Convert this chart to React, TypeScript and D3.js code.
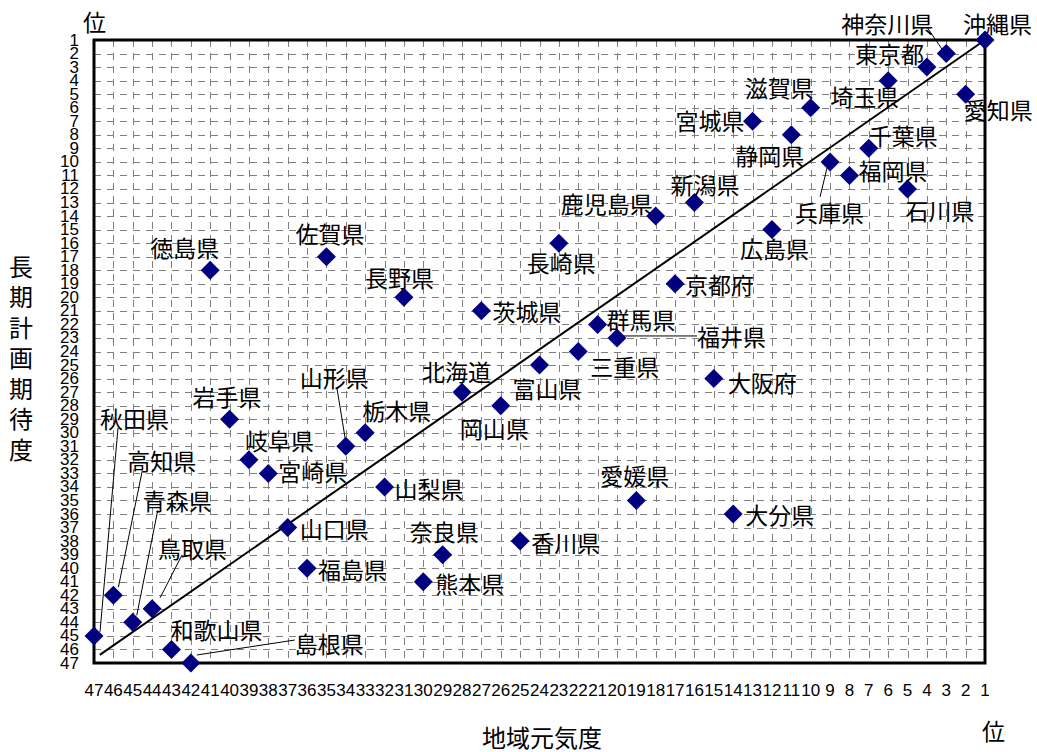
import React from "react";
import * as d3 from "d3";

// Prefecture names, regional-vitality rank (x) and long-term-plan-expectation rank (y)
const names = [
  "沖縄県", "神奈川県", "東京都", "埼玉県", "愛知県", "滋賀県", "宮城県", "静岡県",
  "千葉県", "兵庫県", "福岡県", "石川県", "新潟県", "鹿児島県", "広島県", "長崎県",
  "佐賀県", "徳島県", "京都府", "長野県", "茨城県", "群馬県", "福井県", "三重県",
  "富山県", "大阪府", "北海道", "岡山県", "岩手県", "栃木県", "山形県", "岐阜県",
  "宮崎県", "山梨県", "愛媛県", "大分県", "山口県", "香川県", "奈良県", "福島県",
  "熊本県", "高知県", "鳥取県", "青森県", "秋田県", "和歌山県", "島根県",
];
const vitalityRank = [
  1, 3, 4, 6, 2, 10, 13, 11, 7, 9, 8, 5, 16, 18, 12, 23, 35, 41, 17, 31, 27, 21, 20, 22,
  24, 15, 28, 26, 40, 33, 34, 39, 38, 32, 19, 14, 37, 25, 29, 36, 30, 46, 44, 45, 47, 43, 42,
];
const expectationRank = [
  1, 2, 3, 4, 5, 6, 7, 8, 9, 10, 11, 12, 13, 14, 15, 16, 17, 18, 19, 20, 21, 22, 23, 24,
  25, 26, 27, 28, 29, 30, 31, 32, 33, 34, 35, 36, 37, 38, 39, 40, 41, 42, 43, 44, 45, 46, 47,
];
const rankTicks = d3.range(1, 48);
const diagonalStart = [46.7, 46.4];
const diagonalEnd = [1, 1];

// label placement (pixel offsets from the marker): [dx, dy]
const labelOffsets: Record<string, [number, number]> = {
  沖縄県: [-22, -17], 神奈川県: [-105, -31], 東京都: [-72, -14], 埼玉県: [-58, 15],
  愛知県: [-2, 15], 滋賀県: [-66, -21], 宮城県: [-77, -1], 静岡県: [-56, 20],
  千葉県: [0, -13], 兵庫県: [-35, 50], 福岡県: [9, -5], 石川県: [-2, 21],
  新潟県: [-24, -19], 鹿児島県: [-95, -13], 広島県: [-32, 18], 長崎県: [-32, 19],
  佐賀県: [-31, -24], 徳島県: [-60, -23], 京都府: [10, 0], 長野県: [-39, -20],
  茨城県: [11, 0], 群馬県: [9, -5], 福井県: [80, -2], 三重県: [12, 14],
  富山県: [-27, 23], 大阪府: [14, 3], 北海道: [-40, -21], 岡山県: [-41, 22],
  岩手県: [-37, -23], 栃木県: [-3, -23], 山形県: [-46, -69], 岐阜県: [-4, -20],
  宮崎県: [10, -2], 山梨県: [10, 1], 愛媛県: [-36, -25], 大分県: [12, 0],
  山口県: [12, 0], 香川県: [11, 1], 奈良県: [-33, -24], 福島県: [11, 1],
  熊本県: [12, 1], 高知県: [14, -135], 鳥取県: [6, -61], 青森県: [10, -122],
  秋田県: [6, -218], 和歌山県: [-1, -20], 島根県: [104, -20],
};
// leader lines (offsets from the marker): [x1, y1, x2, y2]
const leaders: Record<string, [number, number, number, number]> = {
  神奈川県: [-19, -26, -4, -4],
  兵庫県: [-10, 35, -3, 6],
  福井県: [5, -2, 80, -2],
  山形県: [-9, -59, 0, -4],
  高知県: [29, -125, 5, -8],
  鳥取県: [30, -54, 8, -11],
  青森県: [25, -112, 4, -7],
  秋田県: [24, -208, 6, -4],
  島根県: [6, -8, 104, -23],
};

const W = 1037;
const H = 752;
const left = 94, right = 985, top = 40, bottom = 663;
const jp = "'Noto Sans CJK JP', sans-serif";
const num = "'Liberation Sans', Arial, sans-serif";

export default function App() {
  const x = d3.scaleLinear().domain([47, 1]).range([left, right]);
  const y = d3.scaleLinear().domain([1, 47]).range([top, bottom]);
  const pts = names.map((n, i) => ({ n, px: x(vitalityRank[i]), py: y(expectationRank[i]) }));
  const diamond = d3.symbol().type(d3.symbolDiamond2 ?? d3.symbolDiamond).size(230)();
  const yTitle = "長期計画期待度".split("");

  return (
    <svg width={W} height={H} style={{ position: "absolute", left: 0, top: 0, background: "#fff" }}>
      <rect x={0} y={0} width={W} height={H} fill="#fff" />
      {/* grid */}
      <g stroke="#7f7f7f" strokeWidth={1} strokeDasharray="7,6">
        {rankTicks.slice(1, -1).map((r) => (
          <line key={"v" + r} x1={Math.round(x(r)) + 0.5} x2={Math.round(x(r)) + 0.5} y1={top} y2={bottom} />
        ))}
        {rankTicks.slice(1, -1).map((r) => (
          <line key={"h" + r} x1={left} x2={right} y1={Math.round(y(r)) + 0.5} y2={Math.round(y(r)) + 0.5} />
        ))}
      </g>
      {/* frame */}
      <rect x={left} y={top} width={right - left} height={bottom - top} fill="none" stroke="#000" strokeWidth={3} />
      {/* diagonal */}
      <line
        x1={x(diagonalStart[0])} y1={y(diagonalStart[1])}
        x2={x(diagonalEnd[0])} y2={y(diagonalEnd[1])}
        stroke="#000" strokeWidth={2}
      />
      {/* ticks */}
      <g fontFamily={num} fontSize={17} fill="#000">
        {rankTicks.map((r) => (
          <text key={"yt" + r} x={79} y={y(r)} textAnchor="end" dominantBaseline="central">{r}</text>
        ))}
        {rankTicks.map((r) => (
          <text key={"xt" + r} x={x(r)} y={690} textAnchor="middle" dominantBaseline="central">{r}</text>
        ))}
      </g>
      {/* leaders */}
      <g stroke="#000" strokeWidth={1}>
        {pts.filter((p) => leaders[p.n]).map((p) => {
          const l = leaders[p.n];
          return <line key={"l" + p.n} x1={p.px + l[0]} y1={p.py + l[1]} x2={p.px + l[2]} y2={p.py + l[3]} />;
        })}
      </g>
      {/* markers */}
      <g fill="#000080">
        {pts.map((p) => (
          <path key={"m" + p.n} d={diamond as string} transform={`translate(${p.px},${p.py})`} />
        ))}
      </g>
      {/* labels */}
      <g fontFamily={jp} fontSize={23} fill="#000">
        {pts.map((p) => {
          const o = labelOffsets[p.n] || [10, 0];
          return (
            <text key={"t" + p.n} x={p.px + o[0]} y={p.py + o[1]} dominantBaseline="central">{p.n}</text>
          );
        })}
      </g>
      {/* axis titles */}
      <g fontFamily={jp} fill="#000">
        <text x={83} y={21} fontSize={23} dominantBaseline="central">位</text>
        <text x={982} y={730} fontSize={23} dominantBaseline="central">位</text>
        <text x={542} y={736} fontSize={24} textAnchor="middle" dominantBaseline="central">地域元気度</text>
        {yTitle.map((c, i) => (
          <text key={"yt" + i} x={21} y={265 + i * 30.5} fontSize={24} textAnchor="middle" dominantBaseline="central">{c}</text>
        ))}
      </g>
    </svg>
  );
}
